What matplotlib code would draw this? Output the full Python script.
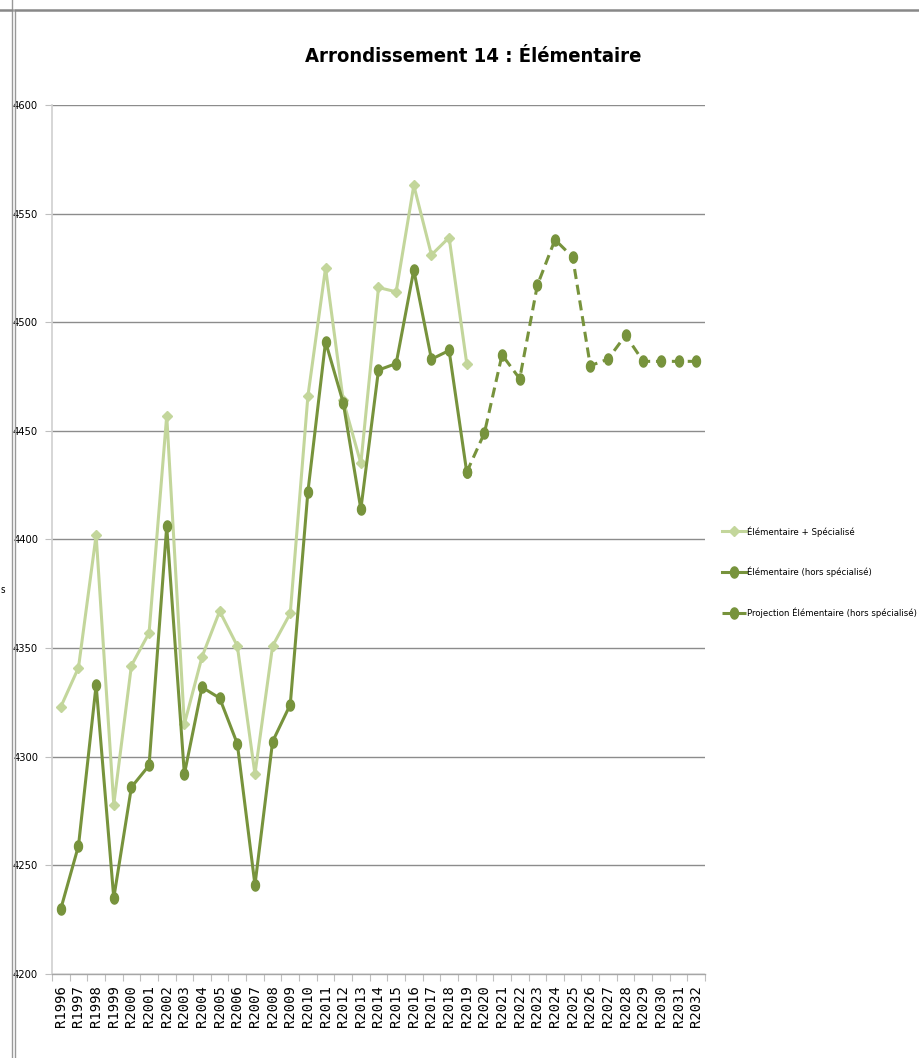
import numpy as np
import matplotlib.pyplot as plt
from matplotlib.path import Path
from matplotlib.lines import Line2D
from matplotlib.ticker import FixedLocator, NullFormatter

# data
years = ['R%d' % y for y in range(1996, 2033)]

elem_spec = [4323, 4341, 4402, 4278, 4342, 4357, 4457, 4315, 4346, 4367,
             4351, 4292, 4351, 4366, 4466, 4525, 4464, 4435, 4516, 4514,
             4563, 4531, 4539, 4481]            # R1996 .. R2019

elem_hors = [4230, 4259, 4333, 4235, 4286, 4296, 4406, 4292, 4332, 4327,
             4306, 4241, 4307, 4324, 4422, 4491, 4463, 4414, 4478, 4481,
             4524, 4483, 4487, 4431]            # R1996 .. R2019

proj_hors = [4431, 4449, 4485, 4474, 4517, 4538, 4530, 4480, 4483, 4494,
             4482, 4482, 4482, 4482]            # R2019 .. R2032

yticks = [4200, 4250, 4300, 4350, 4400, 4450, 4500, 4550, 4600]

light = '#c3d69b'
dark = '#77933c'
narrow = dict(family='DejaVu Sans', fontstretch='condensed')

# tall ellipse marker, like the stretched excel circles
t = np.linspace(0, 2 * np.pi, 40)
ell = Path(np.column_stack([0.72 * np.cos(t), np.sin(t)]), closed=True)

fig = plt.figure(figsize=(9.2, 10.58), dpi=100)
W, H = 920, 1058
ax = fig.add_axes([52 / W, 1 - 974 / H, (705 - 52) / W, (974 - 105) / H])

x1 = np.arange(len(elem_spec))
x3 = np.arange(len(elem_hors) - 1, len(elem_hors) - 1 + len(proj_hors))

ax.plot(x1, elem_spec, color=light, lw=2.2, marker='D', ms=5,
        mfc=light, mec=light, zorder=3, label='Élémentaire + Spécialisé')
ax.plot(x1, elem_hors, color=dark, lw=2.2, marker=ell, ms=8,
        mfc=dark, mec=dark, zorder=4, label='Élémentaire (hors spécialisé)')
ax.plot(x3, proj_hors, color=dark, lw=2.2, ls=(0, (3.3, 1.9)), marker=ell, ms=8,
        mfc=dark, mec=dark, zorder=4, label='Projection Élémentaire (hors spécialisé)')

ax.set_xlim(-0.5, len(years) - 0.5)
ax.set_ylim(4200, 4600)
ax.set_yticks(yticks)
ax.set_yticklabels([str(v) for v in yticks], fontsize=8, **narrow)
ax.yaxis.grid(True, color='#8c8c8c', lw=1.0)
ax.set_axisbelow(True)

ax.set_xticks(np.arange(len(years)))
ax.set_xticklabels(years, rotation=90, family='DejaVu Sans Mono', fontsize=10)
ax.xaxis.set_minor_locator(FixedLocator(np.arange(-0.5, len(years), 1.0)))
ax.xaxis.set_minor_formatter(NullFormatter())
ax.tick_params(axis='x', which='major', length=0, pad=8)
ax.tick_params(axis='x', which='minor', length=5, color='#bfbfbf', width=0.8)
ax.tick_params(axis='y', length=5, color='#bfbfbf', width=0.8, pad=5)

for s in ['top', 'right']:
    ax.spines[s].set_visible(False)
ax.spines['left'].set_color('#d0d0d0')
ax.spines['left'].set_linewidth(1.2)
ax.spines['bottom'].set_color('#a6a6a6')
ax.spines['bottom'].set_linewidth(1.0)

fig.text(473 / W, 1 - 57 / H, 'Arrondissement 14 : Élémentaire', ha='center', va='center',
         fontsize=14.5, fontweight='bold', **narrow)

ax.legend(loc='center left', bbox_to_anchor=(718 / W, 1 - 572 / H),
          bbox_transform=fig.transFigure, frameon=False,
          prop={'family': 'DejaVu Sans', 'stretch': 'condensed', 'size': 6.8},
          labelspacing=3.2, handlelength=2.6, handletextpad=0.1, borderaxespad=0)

# outer frame of the screenshot
fig.add_artist(Line2D([12 / W, 12 / W], [0, 1], color='#999999', lw=1.0))
fig.add_artist(Line2D([15 / W, 15 / W], [0, 1 - 10 / H], color='#999999', lw=1.0))
fig.add_artist(Line2D([15 / W, 1], [1 - 10 / H, 1 - 10 / H], color='#888888', lw=1.8))
fig.add_artist(Line2D([0, 12 / W], [1 - 10 / H, 1 - 10 / H], color='#888888', lw=1.8))
fig.text(1 / W, 1 - 590 / H, 's', fontsize=7, va='center', **narrow)

fig.savefig('out.png', dpi=100)
